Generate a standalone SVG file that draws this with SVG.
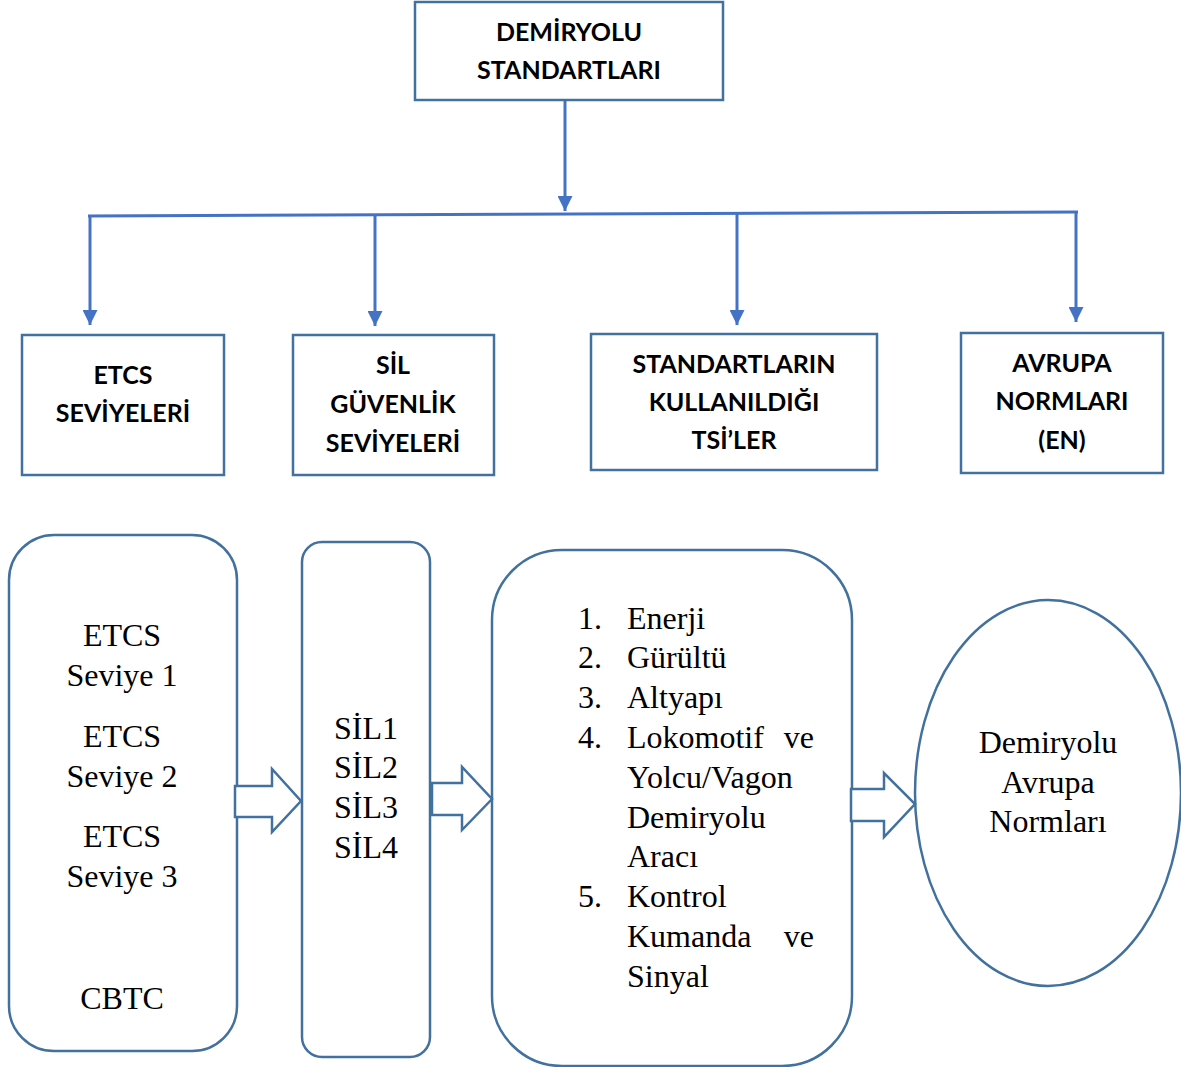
<svg xmlns="http://www.w3.org/2000/svg" width="1181" height="1067" viewBox="0 0 1181 1067">
  <style>
    .box { fill: #ffffff; stroke: #41719c; stroke-width: 2.5; }
    .conn { fill: none; stroke: #4472c4; stroke-width: 3; }
    .blk { fill: #ffffff; stroke: #41719c; stroke-width: 2.5; stroke-linejoin: miter; }
    .hd { font-family: Lato, "Open Sans", sans-serif; font-weight: bold; font-size: 25px; fill: #000; text-anchor: middle; }
    .tx { font-family: "Liberation Serif", "Times New Roman", serif; font-size: 32px; fill: #000; }
    .c { text-anchor: middle; }
  </style>
  <defs>
    <marker id="tri" viewBox="0 0 10 10" refX="10" refY="5" markerWidth="5" markerHeight="5" markerUnits="strokeWidth" orient="auto">
      <path d="M0,0 L10,5 L0,10 Z" fill="#4472c4"/>
    </marker>
  </defs>
  <rect width="1181" height="1067" fill="#ffffff"/>

  <!-- tree connectors -->
  <g id="connectors">
    <line class="conn" x1="565" y1="100" x2="565" y2="211" marker-end="url(#tri)"/>
    <line class="conn" x1="88" y1="216" x2="1078" y2="212"/>
    <line class="conn" x1="90" y1="216" x2="90" y2="325" marker-end="url(#tri)"/>
    <line class="conn" x1="375" y1="215" x2="375" y2="326" marker-end="url(#tri)"/>
    <line class="conn" x1="737" y1="214" x2="737" y2="325" marker-end="url(#tri)"/>
    <line class="conn" x1="1076" y1="212" x2="1076" y2="322" marker-end="url(#tri)"/>
  </g>

  <!-- header boxes -->
  <g id="root">
    <rect class="box" x="415" y="2" width="308" height="98"/>
    <text class="hd" x="569" y="41">DEMİRYOLU</text>
    <text class="hd" x="569" y="79">STANDARTLARI</text>
  </g>
  <g id="etcs-head">
    <rect class="box" x="22" y="335" width="202" height="140"/>
    <text class="hd" x="123" y="384">ETCS</text>
    <text class="hd" x="123" y="422">SEVİYELERİ</text>
  </g>
  <g id="sil-head">
    <rect class="box" x="293" y="335" width="201" height="140"/>
    <text class="hd" x="393" y="374">SİL</text>
    <text class="hd" x="393" y="413">GÜVENLİK</text>
    <text class="hd" x="393" y="452">SEVİYELERİ</text>
  </g>
  <g id="tsi-head">
    <rect class="box" x="591" y="334" width="286" height="136"/>
    <text class="hd" x="734" y="373">STANDARTLARIN</text>
    <text class="hd" x="734" y="411">KULLANILDIĞI</text>
    <text class="hd" x="734" y="449">TSİ’LER</text>
  </g>
  <g id="en-head">
    <rect class="box" x="961" y="333" width="202" height="140"/>
    <text class="hd" x="1062" y="372">AVRUPA</text>
    <text class="hd" x="1062" y="410">NORMLARI</text>
    <text class="hd" x="1062" y="449">(EN)</text>
  </g>

  <!-- detail panels -->
  <g id="etcs-list">
    <rect class="box" x="9" y="535" width="228" height="516" rx="45" ry="45"/>
    <text class="tx c" x="122" y="646">ETCS</text>
    <text class="tx c" x="122" y="686">Seviye 1</text>
    <text class="tx c" x="122" y="747">ETCS</text>
    <text class="tx c" x="122" y="787">Seviye 2</text>
    <text class="tx c" x="122" y="847">ETCS</text>
    <text class="tx c" x="122" y="887">Seviye 3</text>
    <text class="tx c" x="122" y="1009">CBTC</text>
  </g>
  <g id="sil-list">
    <rect class="box" x="302" y="542" width="128" height="515" rx="20" ry="20"/>
    <text class="tx c" x="366" y="739">SİL1</text>
    <text class="tx c" x="366" y="778">SİL2</text>
    <text class="tx c" x="366" y="818">SİL3</text>
    <text class="tx c" x="366" y="858">SİL4</text>
  </g>
  <g id="tsi-list">
    <rect class="box" x="492" y="550" width="360" height="516" rx="70" ry="70"/>
    <text class="tx" x="578" y="629">1.</text><text class="tx" x="627" y="629">Enerji</text>
    <text class="tx" x="578" y="668">2.</text><text class="tx" x="627" y="668">Gürültü</text>
    <text class="tx" x="578" y="708">3.</text><text class="tx" x="627" y="708">Altyapı</text>
    <text class="tx" x="578" y="748">4.</text><text class="tx" x="627" y="748">Lokomotif</text><text class="tx" x="814" y="748" text-anchor="end">ve</text>
    <text class="tx" x="627" y="788">Yolcu/Vagon</text>
    <text class="tx" x="627" y="828">Demiryolu</text>
    <text class="tx" x="627" y="867">Aracı</text>
    <text class="tx" x="578" y="907">5.</text><text class="tx" x="627" y="907">Kontrol</text>
    <text class="tx" x="627" y="947">Kumanda</text><text class="tx" x="814" y="947" text-anchor="end">ve</text>
    <text class="tx" x="627" y="987">Sinyal</text>
  </g>
  <g id="en-result">
    <ellipse class="box" cx="1048" cy="793" rx="133" ry="193"/>
    <text class="tx c" x="1048" y="753">Demiryolu</text>
    <text class="tx c" x="1048" y="793">Avrupa</text>
    <text class="tx c" x="1048" y="832">Normları</text>
  </g>

  <!-- block arrows between panels -->
  <g id="flow-arrows">
    <path class="blk" d="M235,786 H272 V769 L301,801 L272,832 V817 H235 Z"/>
    <path class="blk" d="M432,783 H462 V767 L492,799 L462,830 V815 H432 Z"/>
    <path class="blk" d="M851,789 H884 V773 L915,804 L884,837 V821 H851 Z"/>
  </g>
</svg>
